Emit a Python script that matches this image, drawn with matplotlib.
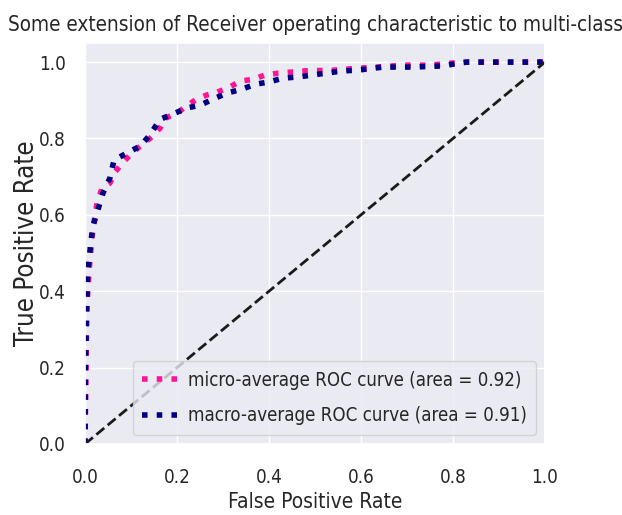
import matplotlib
matplotlib.use("Agg")
import matplotlib.pyplot as plt
import seaborn as sns

# ROC points
micro_fpr = [0.0, 0.002, 0.004, 0.009, 0.015, 0.022, 0.026, 0.037, 0.054, 0.065, 0.083,
             0.104, 0.141, 0.163, 0.174, 0.2, 0.22, 0.243, 0.265, 0.287, 0.315, 0.337,
             0.365, 0.391, 0.42, 0.45, 0.478, 0.511, 0.543, 0.572, 0.635, 0.691, 0.75,
             0.793, 0.83, 1.0]
micro_tpr = [0.0, 0.19, 0.36, 0.455, 0.54, 0.6, 0.63, 0.67, 0.683, 0.712, 0.738,
             0.764, 0.80, 0.827, 0.853, 0.866, 0.885, 0.903, 0.914, 0.921, 0.935, 0.95,
             0.955, 0.966, 0.971, 0.974, 0.977, 0.978, 0.979, 0.982, 0.987, 0.992, 0.992,
             0.997, 1.0, 1.0]

macro_fpr = [0.0, 0.001, 0.003, 0.006, 0.012, 0.017, 0.028, 0.039, 0.054, 0.063, 0.091,
             0.12, 0.141, 0.163, 0.191, 0.222, 0.25, 0.278, 0.309, 0.341, 0.37, 0.4,
             0.43, 0.463, 0.493, 0.524, 0.554, 0.6, 0.648, 0.713, 0.778, 0.811, 0.83, 1.0]
macro_tpr = [0.0, 0.2, 0.33, 0.45, 0.52, 0.57, 0.613, 0.657, 0.696, 0.743, 0.762,
             0.78, 0.809, 0.85, 0.864, 0.88, 0.887, 0.903, 0.919, 0.929, 0.942, 0.948,
             0.958, 0.961, 0.966, 0.971, 0.976, 0.98, 0.987, 0.987, 0.99, 0.997, 1.0, 1.0]

micro_auc = 0.92
macro_auc = 0.91

sns.set_theme(style="darkgrid")
plt.rcParams['font.family'] = ['DejaVu Sans']
plt.rcParams['font.stretch'] = 'condensed'

fig = plt.figure(figsize=(6.22, 5.15), dpi=100)
ax = fig.add_axes([0.1367, 0.1379, 0.7395, 0.7786])

ax.plot(micro_fpr, micro_tpr, label='micro-average ROC curve (area = {0:0.2f})'.format(micro_auc),
        color='deeppink', linestyle=':', linewidth=4)
ax.plot(macro_fpr, macro_tpr, label='macro-average ROC curve (area = {0:0.2f})'.format(macro_auc),
        color='navy', linestyle=':', linewidth=4)
ax.plot([0, 1], [0, 1], 'k--', lw=2)

ax.set_xlim([0.0, 1.0])
ax.set_ylim([0.0, 1.05])
ax.tick_params(axis='x', labelsize=13.5, pad=11)
ax.tick_params(axis='y', labelsize=13.5, pad=8)
ax.set_xlabel('False Positive Rate', fontsize=15, labelpad=4)
ax.set_ylabel('True Positive Rate', fontsize=18.5, labelpad=-1)
ax.set_title('Some extension of Receiver operating characteristic to multi-class',
             fontsize=14.9, pad=9)
ax.legend(loc="lower right", fontsize=13.4, labelspacing=0.9, handletextpad=0.45,
          borderpad=0.5)

fig.savefig('out.png', dpi=100)
